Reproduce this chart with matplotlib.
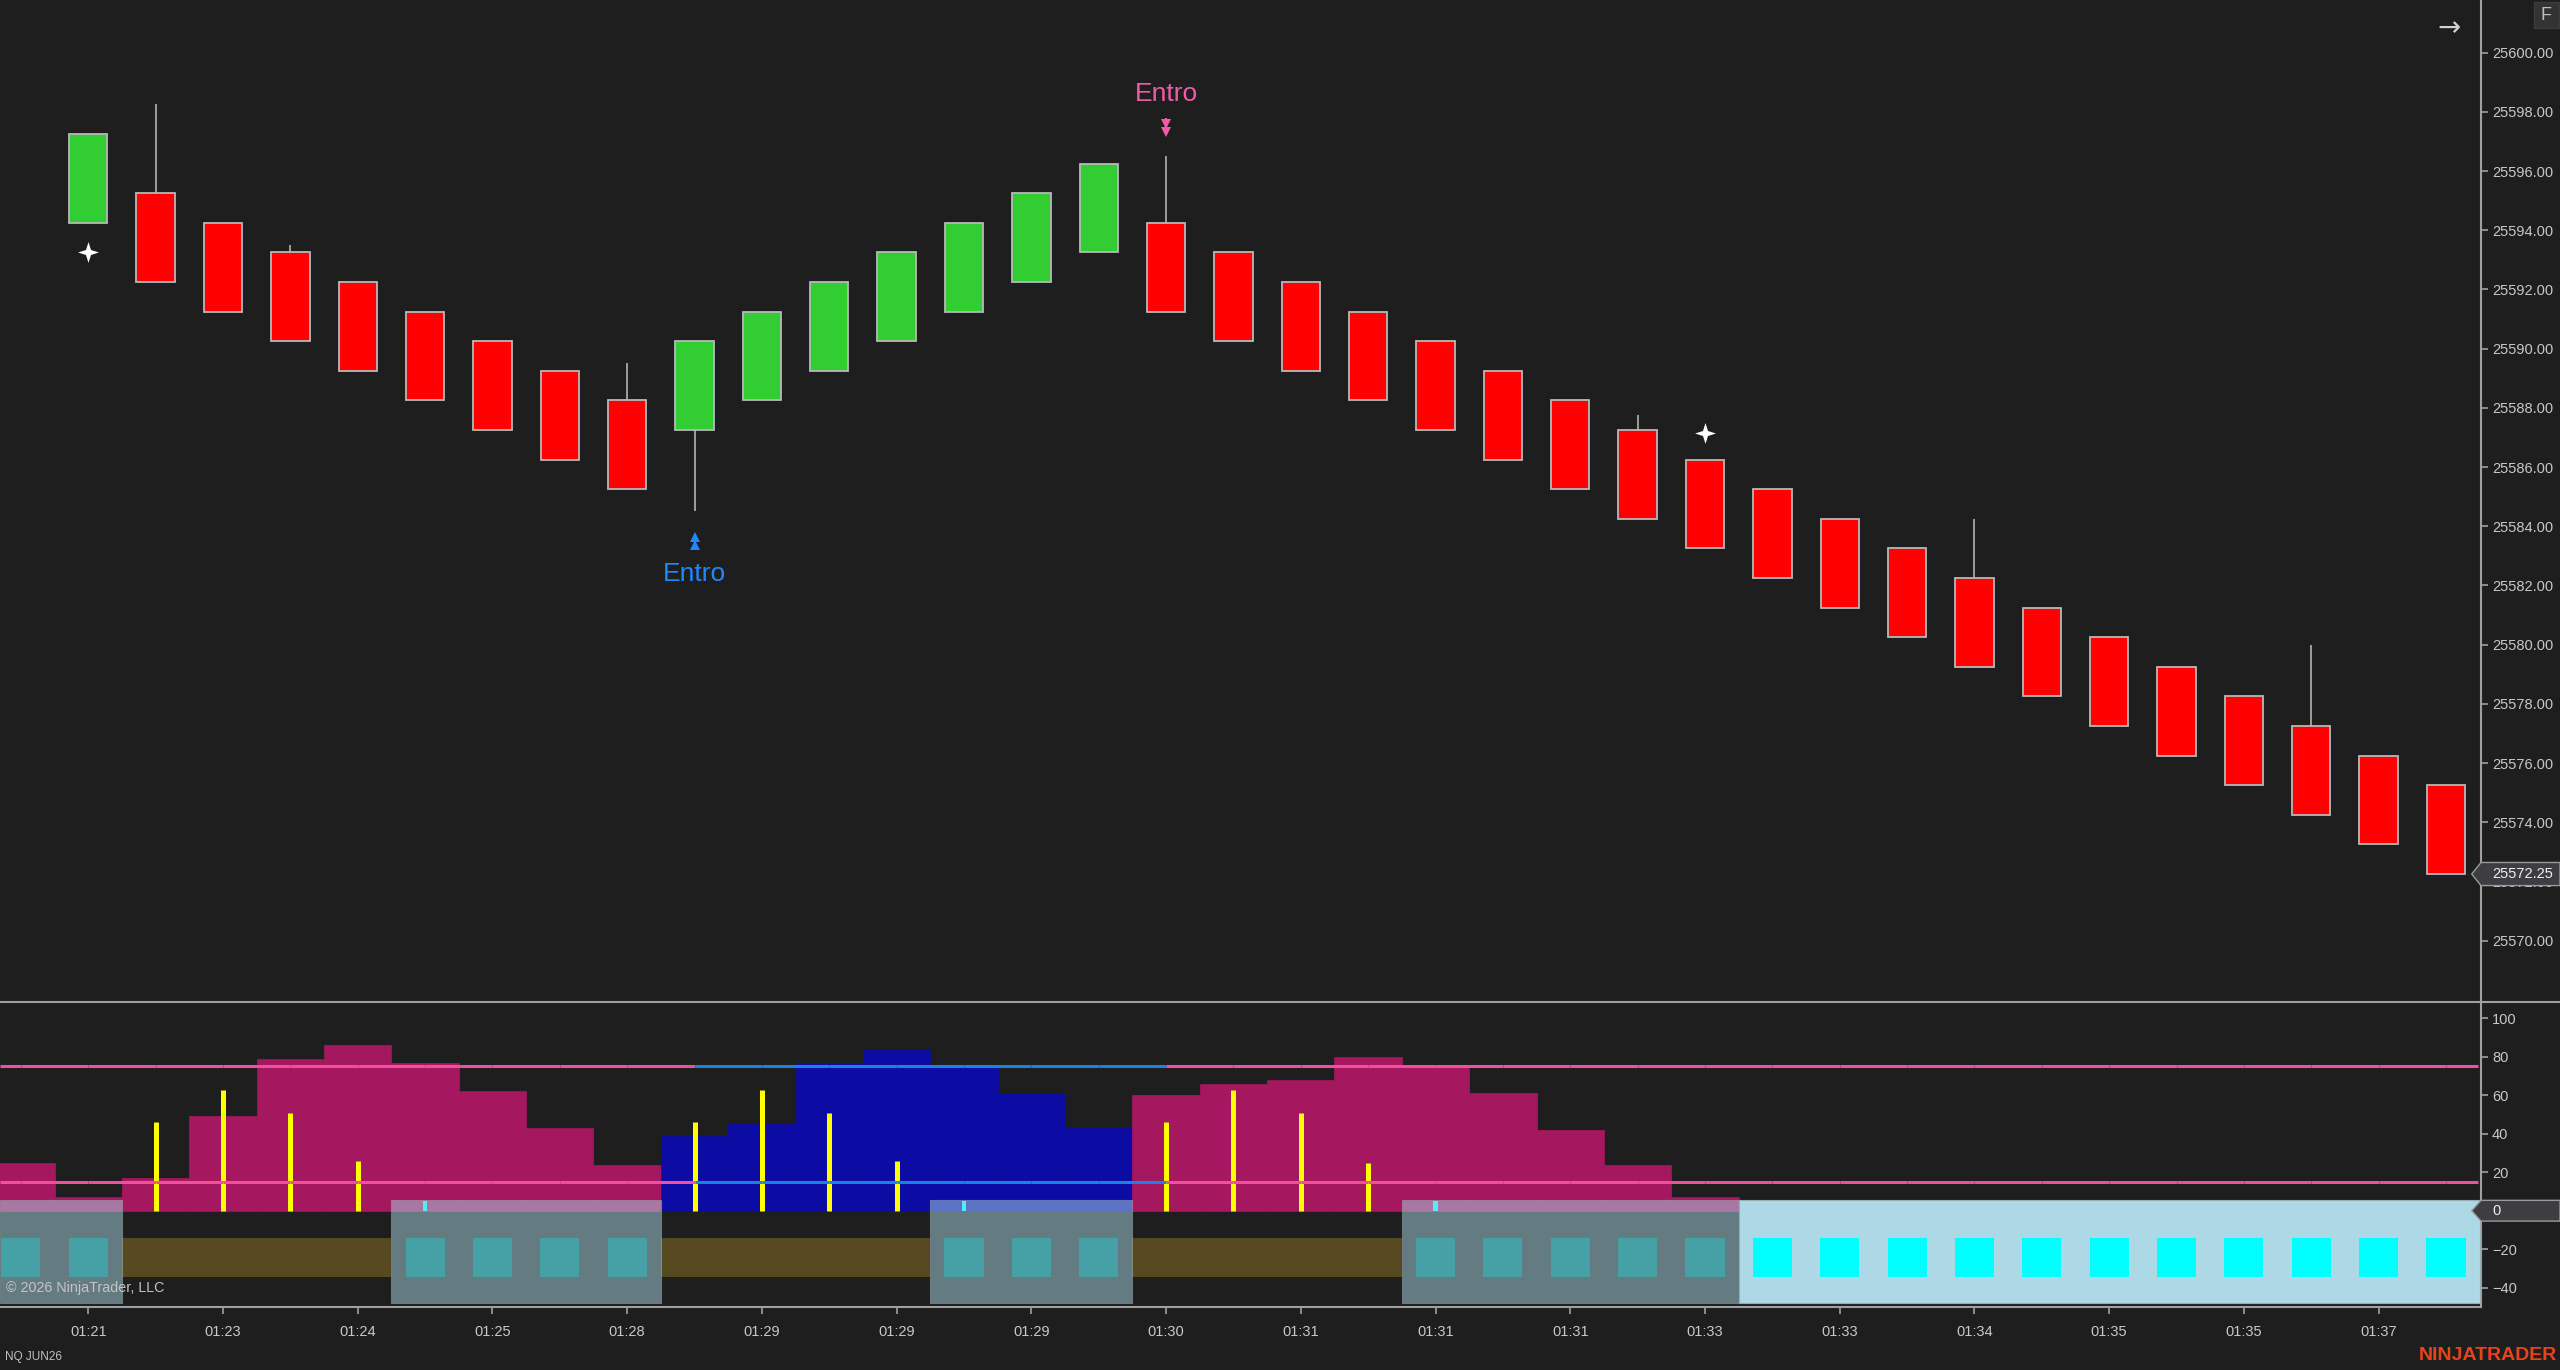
import matplotlib
matplotlib.use('Agg')
import matplotlib.pyplot as plt
import matplotlib.transforms as mtransforms
from matplotlib.patches import Rectangle, Polygon
from matplotlib.lines import Line2D
from matplotlib.collections import LineCollection
from matplotlib.ticker import FormatStrFormatter
import numpy as np

plt.rcParams['font.family'] = ['Liberation Sans', 'DejaVu Sans']

# renko bricks, NQ JUN26
opens = [25594.25, 25595.25, 25594.25, 25593.25, 25592.25, 25591.25, 25590.25, 25589.25, 25588.25,
         25587.25, 25588.25, 25589.25, 25590.25, 25591.25, 25592.25, 25593.25,
         25594.25, 25593.25, 25592.25, 25591.25, 25590.25, 25589.25, 25588.25, 25587.25, 25586.25,
         25585.25, 25584.25, 25583.25, 25582.25, 25581.25, 25580.25, 25579.25, 25578.25, 25577.25,
         25576.25, 25575.25]
closes = [25597.25, 25592.25, 25591.25, 25590.25, 25589.25, 25588.25, 25587.25, 25586.25, 25585.25,
          25590.25, 25591.25, 25592.25, 25593.25, 25594.25, 25595.25, 25596.25,
          25591.25, 25590.25, 25589.25, 25588.25, 25587.25, 25586.25, 25585.25, 25584.25, 25583.25,
          25582.25, 25581.25, 25580.25, 25579.25, 25578.25, 25577.25, 25576.25, 25575.25, 25574.25,
          25573.25, 25572.25]
highs = [25597.25, 25598.25, 25594.25, 25593.5, 25592.25, 25591.25, 25590.25, 25589.25, 25589.5,
         25590.25, 25591.25, 25592.25, 25593.25, 25594.25, 25595.25, 25596.25,
         25596.5, 25593.25, 25592.25, 25591.25, 25590.25, 25589.25, 25588.25, 25587.75, 25586.25,
         25585.25, 25584.25, 25583.25, 25584.25, 25581.25, 25580.25, 25579.25, 25578.25, 25580.0,
         25576.25, 25575.25]
lows = [25594.25, 25592.25, 25591.25, 25590.25, 25589.25, 25588.25, 25587.25, 25586.25, 25585.25,
        25584.5, 25588.25, 25589.25, 25590.25, 25591.25, 25592.25, 25593.25,
        25591.25, 25590.25, 25589.25, 25588.25, 25587.25, 25586.25, 25585.25, 25584.25, 25583.25,
        25582.25, 25581.25, 25580.25, 25579.25, 25578.25, 25577.25, 25576.25, 25575.25, 25574.25,
        25573.25, 25572.25]

time_labels = ['01:21', '01:23', '01:24', '01:25', '01:28', '01:29', '01:29', '01:29', '01:30',
               '01:31', '01:31', '01:31', '01:33', '01:33', '01:34', '01:35', '01:35', '01:37']

star_bars = [0, 24]
star_prices = [25593.25, 25587.15]
long_entry_bar = 9
short_entry_bar = 16

# lower panel, bars -1 .. 35
osc_bars = list(range(-1, 36))
osc_values = [25, 7, 17, 49, 79, 86, 77, 62, 43, 24,
              39, 45, 77, 84, 76, 61, 43,
              60, 66, 68, 80, 75, 61, 42, 24, 7] + [0] * 11
osc_side = ['bear'] * 10 + ['bull'] * 7 + ['bear'] * 20
spike_bars = [1, 2, 3, 4, 9, 10, 11, 12, 16, 17, 18, 19]
spike_values = [46, 63, 51, 26, 46, 63, 51, 26, 46, 63, 51, 25]
levels = [75, 15]
zone_state = (['grey'] * 2 + ['brown'] * 4 + ['grey'] * 4 + ['brown'] * 4 + ['grey'] * 3
              + ['brown'] * 4 + ['grey'] * 5 + ['cyan'] * 11)

BG = '#1e1e1e'
AXC = '#a0a0a0'
TXT = '#c8c8c8'
W, H = 2560, 1370

fig = plt.figure(figsize=(W / 100, H / 100), dpi=100, facecolor=BG)
ax = fig.add_axes([0, (H - 1001) / H, 2481 / W, 1001 / H], facecolor=BG)
ax2 = fig.add_axes([0, (H - 1307.3) / H, 2481 / W, (1307.3 - 1002) / H], facecolor=BG)

XLIM = (-1.31, 35.52)

# ---- price panel
x = np.arange(len(opens))
o = np.array(opens)
c = np.array(closes)
ax.vlines(x, lows, highs, color='#a8a8a8', lw=1.3, zorder=1)
body_colors = ['#32cd32' if cc > oo else '#ff0000' for oo, cc in zip(o, c)]
ax.bar(x, np.abs(c - o), bottom=np.minimum(o, c), width=0.57, color=body_colors,
       edgecolor='#b8b8b8', linewidth=1.3, zorder=2)

star = [(0, 1), (0.24, 0.24), (1, 0), (0.24, -0.24), (0, -1), (-0.24, -0.24), (-1, 0), (-0.24, 0.24), (0, 1)]
ax.plot(star_bars, star_prices, ls='none', marker=star, ms=15, color='white', mew=0, zorder=3)

# entry signals
PINK_TXT = '#ee5ca9'
BLUE_TXT = '#1e88ff'
hb = highs[short_entry_bar]
ax.plot([short_entry_bar] * 2, [hb + 1.10, hb + 0.83], ls='none', marker='v', ms=7,
        color=PINK_TXT, mew=0, zorder=3)
ax.vlines(short_entry_bar, hb + 1.1, hb + 1.3, color=PINK_TXT, lw=1.5)
ax.text(short_entry_bar, hb + 2.1, 'Entro', ha='center', va='center', fontsize=19, color=PINK_TXT)
lb = lows[long_entry_bar]
ax.plot([long_entry_bar] * 2, [lb - 0.87, lb - 1.14], ls='none', marker='^', ms=7,
        color=BLUE_TXT, mew=0, zorder=3)
ax.vlines(long_entry_bar, lb - 1.3, lb - 1.1, color=BLUE_TXT, lw=1.5)
ax.text(long_entry_bar, lb - 2.1, 'Entro', ha='center', va='center', fontsize=19, color=BLUE_TXT)

ax.set_xlim(XLIM)
ax.set_ylim(25567.96, 25601.78)
ax.set_xticks([])
ax.yaxis.tick_right()
ax.set_yticks(np.arange(25570, 25601, 2))
ax.yaxis.set_major_formatter(FormatStrFormatter('%.2f'))
ax.tick_params(axis='y', colors=AXC, labelcolor=TXT, length=5, width=1.2, pad=3, labelsize=10.5)
for s in ['top', 'left', 'bottom']:
    ax.spines[s].set_visible(False)
ax.spines['right'].set_color(AXC)
ax.spines['right'].set_linewidth(1.5)

# ---- indicator panel
PINK_H = '#a5185f'
BLUE_H = '#0c0ca5'
ob = np.array(osc_bars)
osc_colors = [BLUE_H if s == 'bull' else PINK_H for s in osc_side]
ax2.bar(ob, osc_values, width=1.0, color=osc_colors, edgecolor=osc_colors, linewidth=0.5, zorder=1)
ax2.vlines(spike_bars, 0, spike_values, color='#ffff00', lw=3.6, zorder=3)

line_col = {'bear': '#f0509b', 'bull': '#1e80e0'}
for lvl in levels:
    segs, cols = [], []
    segs.append([(XLIM[0], lvl), (ob[0], lvl)])
    cols.append(line_col[osc_side[0]])
    for i in range(len(ob) - 1):
        segs.append([(ob[i], lvl), (ob[i + 1], lvl)])
        cols.append(line_col[osc_side[i]])
    segs.append([(ob[-1], lvl), (XLIM[1] - 0.05, lvl)])
    cols.append(line_col[osc_side[-1]])
    ax2.add_collection(LineCollection(segs, colors=cols, linewidths=2.2, zorder=3))

# zones
runs = []
start = 0
for i in range(1, len(zone_state) + 1):
    if i == len(zone_state) or zone_state[i] != zone_state[start]:
        runs.append((zone_state[start], start, i - 1))
        start = i

LBLUE = '#add8e6'
for k, (state, i0, i1) in enumerate(runs):
    left = max(ob[i0] - 0.5, XLIM[0])
    right = min(ob[i1] + 0.5, XLIM[1])
    if state == 'brown':
        ax2.add_patch(Rectangle((left, -34.3), right - left, 20, facecolor='#56481f',
                                edgecolor='none', zorder=1))
        continue
    if state == 'grey':
        ax2.add_patch(Rectangle((left, -47.8), right - left, 53.3, facecolor=LBLUE, alpha=0.5,
                                edgecolor='#9aaab0', linewidth=0.8, zorder=4))
        if k > 0:
            ax2.add_patch(Rectangle((ob[i0] - 0.035, 0), 0.07, 5, facecolor='#00ffff',
                                    edgecolor='none', zorder=2))
        sq_color = '#45a1a6'
    else:
        ax2.add_patch(Rectangle((left, -47.8), right - left, 53.3, facecolor=LBLUE,
                                edgecolor='#9aaab0', linewidth=0.8, zorder=4))
        sq_color = '#00ffff'
    for b in ob[i0:i1 + 1]:
        ax2.add_patch(Rectangle((b - 0.29, -34.3), 0.58, 20, facecolor=sq_color,
                                edgecolor='none', zorder=5))

ax2.set_xlim(XLIM)
ax2.set_ylim(-50.2, 108.5)
ax2.yaxis.tick_right()
ax2.set_yticks(np.arange(-40, 101, 20))
ax2.set_xticks(np.arange(0, 36, 2))
ax2.set_xticklabels(time_labels)
ax2.tick_params(axis='y', colors=AXC, labelcolor=TXT, length=5, width=1.2, pad=3, labelsize=10.5)
ax2.tick_params(axis='x', colors=AXC, labelcolor=TXT, length=5, width=1.2, pad=8, labelsize=10.5)
for s in ['top', 'left']:
    ax2.spines[s].set_visible(False)
for s in ['right', 'bottom']:
    ax2.spines[s].set_color(AXC)
    ax2.spines[s].set_linewidth(1.5)

# separator between panels
fig.add_artist(Line2D([0, 1], [(H - 1001.5) / H] * 2, transform=fig.transFigure,
                      color=AXC, lw=1.5))


# value markers on the right axis
def axis_marker(axis, value, half, label):
    tr = mtransforms.blended_transform_factory(fig.transFigure, axis.transData)
    verts = [(2471.7 / W, value), (2481 / W, value + half), (1.0, value + half),
             (1.0, value - half), (2481 / W, value - half)]
    fig.add_artist(Polygon(verts, closed=True, transform=tr, facecolor='#3d3d42',
                           edgecolor='#9a9a9a', lw=1, zorder=10))
    fig.text(2492 / W, value, label, transform=tr, ha='left', va='center', fontsize=10.5,
             color='#f0f0f0', zorder=11)


axis_marker(ax, closes[-1], 0.39, f'{closes[-1]:.2f}')
axis_marker(ax2, 0, 5.4, '0')

# chrome
fig.add_artist(Rectangle((2534 / W, (H - 28) / H), 25 / W, 26 / H, transform=fig.transFigure,
                         facecolor='#333333', edgecolor='#3c3c3c', lw=1))
fig.text(2546.5 / W, (H - 15) / H, 'F', ha='center', va='center', fontsize=13, color='#bdbdbd')
fig.text(2449 / W, (H - 28) / H, '\u2192', ha='center', va='center', fontsize=20,
         color='#d0d0d0', family='DejaVu Sans')
fig.text(6 / W, (H - 1288) / H, '\u00a9 2026 NinjaTrader, LLC', ha='left', va='center',
         fontsize=10.3, color='#c4c4c4', zorder=12)
fig.text(5 / W, (H - 1357) / H, 'NQ JUN26', ha='left', va='center', fontsize=8.5, color='#c0c0c0')
fig.text(2557 / W, (H - 1355) / H, 'NINJATRADER', ha='right', va='center', fontsize=14,
         weight='bold', color='#e8441c')

fig.savefig('out.png', dpi=100, facecolor=BG)
